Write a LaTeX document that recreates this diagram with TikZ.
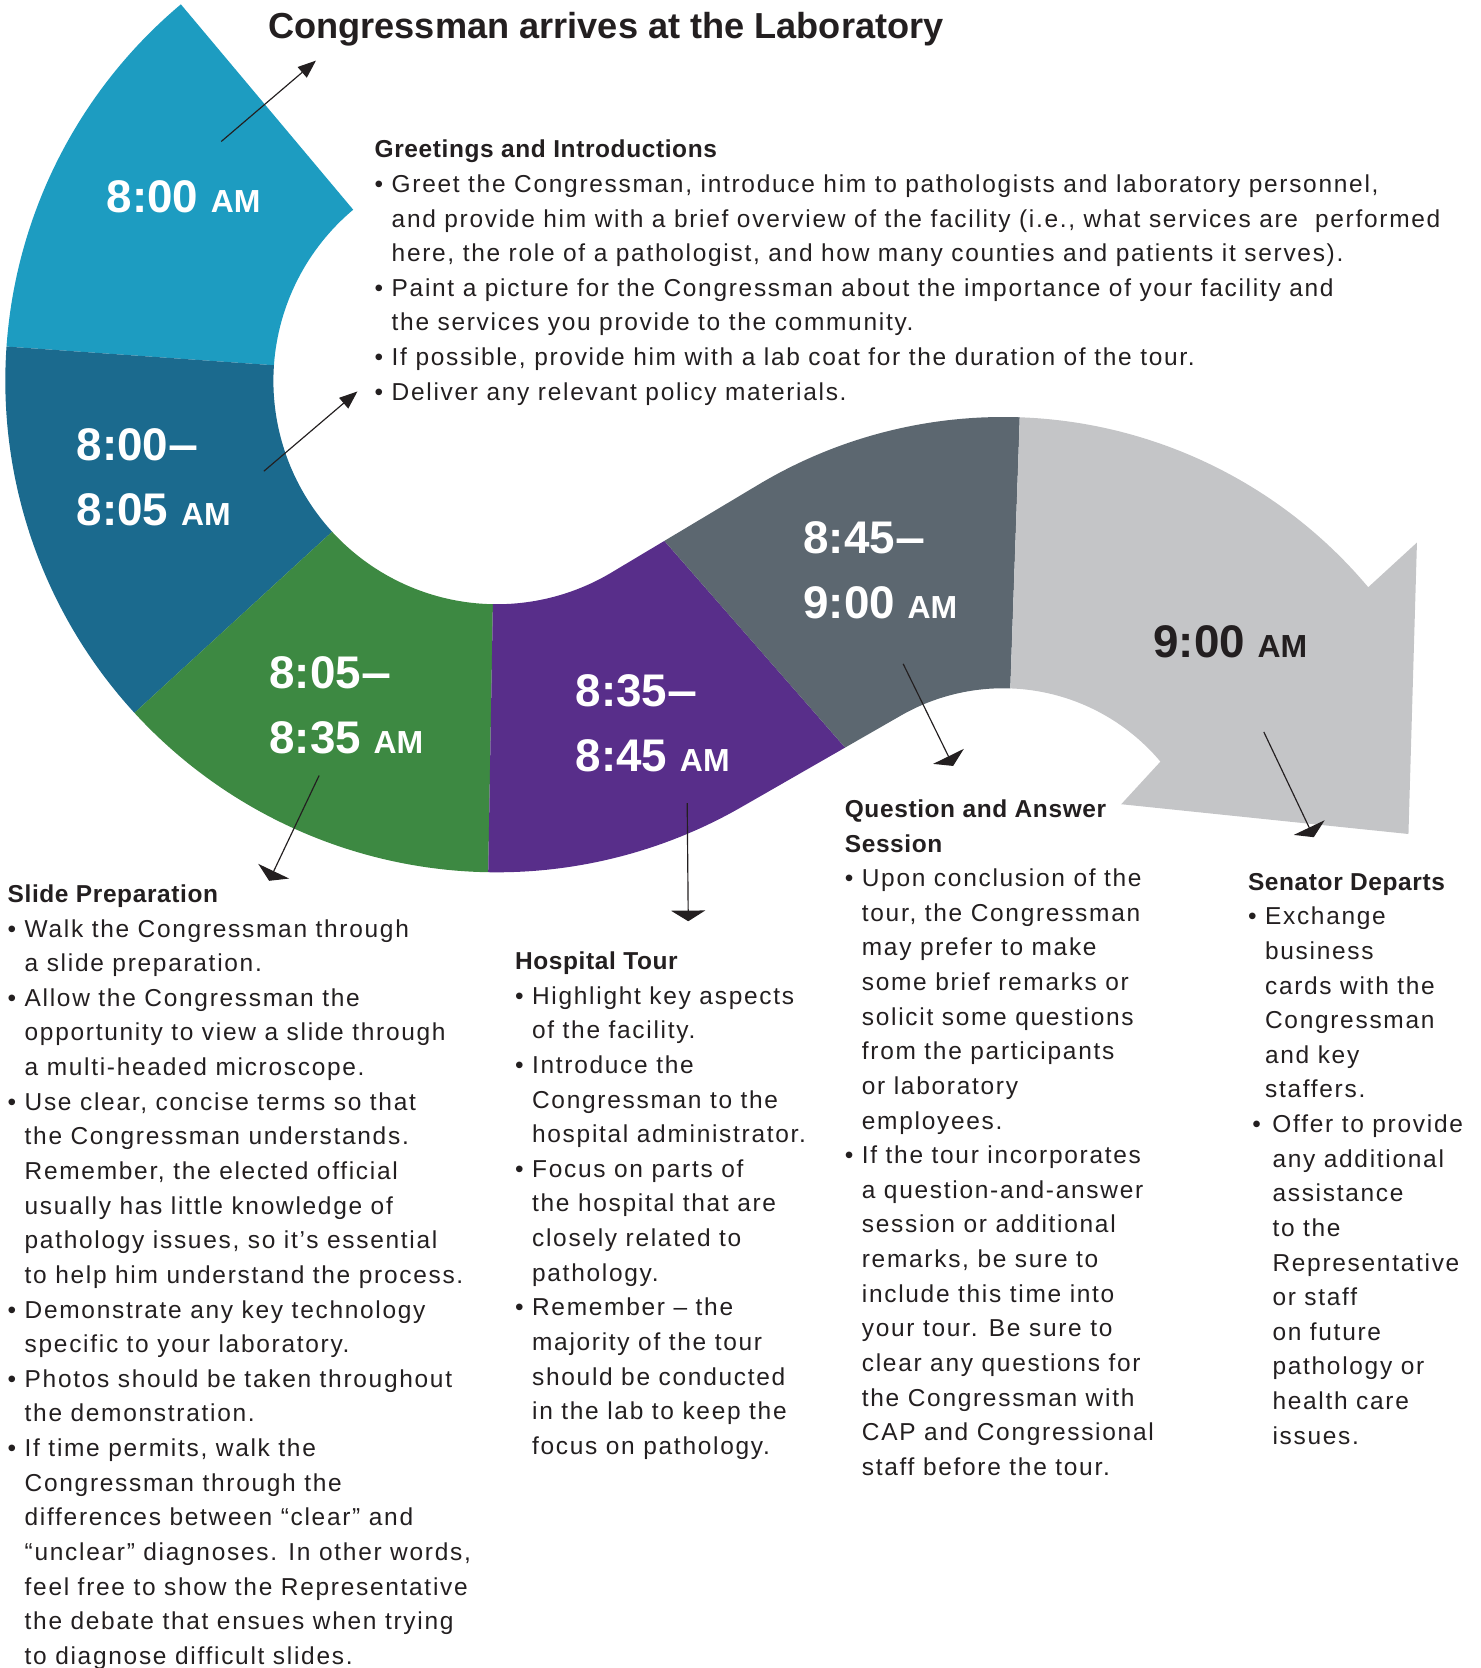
\documentclass[tikz,border=0pt]{standalone}
\usepackage{fontspec}
\setmainfont{Liberation Sans}[LetterSpace=7.0, BoldFeatures={LetterSpace=2.5}]
\newfontfamily\labelfont{Liberation Sans}
\usetikzlibrary{arrows.meta,calc}

\definecolor{segcyan}{RGB}{29,156,193}
\definecolor{segblue}{RGB}{27,106,142}
\definecolor{seggreen}{RGB}{61,137,66}
\definecolor{segpurple}{RGB}{88,46,138}
\definecolor{segslate}{RGB}{92,103,112}
\definecolor{seglight}{RGB}{196,197,199}
\definecolor{ink}{RGB}{35,31,32}

\tikzset{
  timelbl/.style={anchor=base west, inner sep=0pt, text=white,
    font=\labelfont\bfseries\fontsize{43}{43}\selectfont},
  infoblock/.style={anchor=north west, inner sep=0pt, align=left, text=ink,
    font=\fontsize{23}{32.55}\selectfont},
  pointer/.style={draw=ink, line width=1.1pt, -{Triangle[width=13pt,length=17pt]}},
  flatpointer/.style={draw=ink, line width=1.1pt, -{Triangle[width=32pt,length=10pt]}}
}
\newcommand{\am}{{\fontsize{30}{30}\selectfont AM}}
\newcommand{\tdash}{\kern0.5pt\scalebox{1.18}[1]{–}}
\newcommand{\bu}{\makebox[16pt][l]{\textbullet}}
\newcommand{\ii}{\hspace*{16pt}}

\begin{document}
\begin{tikzpicture}[x=1pt, y=1pt]
\useasboundingbox (0,0) rectangle (1392,-1568);

% centres of the two bends and the tangent points between them
\coordinate (c1) at (467,-358);
\coordinate (c2) at (943,-840);
\coordinate (u1) at ($(c1)+(-59.1:210pt)$);
\coordinate (u2) at ($(c2)+(120.9:448pt)$);
\coordinate (l1) at ($(c1)+(-60.13:462pt)$);
\coordinate (l2) at ($(c2)+(119.87:193pt)$);
\coordinate (pu) at ($(u1)!0.36!(u2)$);
\coordinate (pl) at ($(l1)!0.65!(l2)$);
\coordinate (tipA) at (1332,-510);
\coordinate (tipB) at (1324,-784);
\coordinate (tipC) at (1054,-756);

% band segments
\fill[segcyan] ($(c1)+(130:462pt)$) arc[start angle=130, end angle=176, radius=462pt]
  -- ($(c1)+(176:210pt)$) arc[start angle=176, end angle=130, radius=210pt] -- cycle;
\fill[segblue] ($(c1)+(176:462pt)$) arc[start angle=176, end angle=222.5, radius=462pt]
  -- ($(c1)+(222.5:210pt)$) arc[start angle=222.5, end angle=176, radius=210pt] -- cycle;
\fill[seggreen] ($(c1)+(222.5:462pt)$) arc[start angle=222.5, end angle=269, radius=462pt]
  -- ($(c1)+(269:210pt)$) arc[start angle=269, end angle=222.5, radius=210pt] -- cycle;
\fill[segpurple] ($(c1)+(269:462pt)$) arc[start angle=269, end angle=299.87, radius=462pt]
  -- (pl) -- (pu) -- (u1) arc[start angle=300.9, end angle=269, radius=210pt] -- cycle;
\fill[segslate] (pu) -- (u2) arc[start angle=120.9, end angle=88, radius=448pt]
  -- ($(c2)+(88:193pt)$) arc[start angle=88, end angle=119.87, radius=193pt] -- (pl) -- cycle;
\fill[seglight] ($(c2)+(88:448pt)$) arc[start angle=88, end angle=40, radius=448pt]
  -- (tipA) -- (tipB) -- (tipC)
  -- ($(c2)+(40:193pt)$) arc[start angle=40, end angle=88, radius=193pt] -- cycle;

% times
\node[timelbl] (t800) at (100,-200) {8:00 \am};
\node[timelbl] (t800a) at (72,-433) {8:00\tdash};
\node[timelbl] (t800b) at (72,-494) {8:05 \am};
\node[timelbl] (t805a) at (253,-647) {8:05\tdash};
\node[timelbl] (t805b) at (253,-708) {8:35 \am};
\node[timelbl] (t835a) at (541,-664) {8:35\tdash};
\node[timelbl] (t835b) at (541,-725) {8:45 \am};
\node[timelbl] (t845a) at (755,-520) {8:45\tdash};
\node[timelbl] (t845b) at (755,-581) {9:00 \am};
\node[timelbl, text=ink] (t900) at (1084,-618) {9:00 \am};

\node[anchor=base west, inner sep=0pt, text=ink, font=\labelfont\bfseries\fontsize{34}{34}\selectfont]
  (title) at (252,-36) {Congressman arrives at the Laboratory};

\node[infoblock] (greet) at (352,-131.5) {\textbf{Greetings and Introductions}\\
\bu Greet the Congressman, introduce him to pathologists and laboratory personnel,\\
\ii and provide him with a brief overview of the facility (i.e., what services are\ \ performed\\
\ii here, the role of a pathologist, and how many counties and patients it serves).\\
\bu Paint a picture for the Congressman about the importance of your facility and\\
\ii the services you provide to the community.\\
\bu If possible, provide him with a lab coat for the duration of the tour.\\
\bu Deliver any relevant policy materials.};

\node[infoblock] (slide) at (7,-831.5) {\textbf{Slide Preparation}\\
\bu Walk the Congressman through\\
\ii a slide preparation.\\
\bu Allow the Congressman the\\
\ii opportunity to view a slide through\\
\ii a multi-headed microscope.\\
\bu Use clear, concise terms so that\\
\ii the Congressman understands.\\
\ii Remember, the elected official\\
\ii usually has little knowledge of\\
\ii pathology issues, so it’s essential\\
\ii to help him understand the process.\\
\bu Demonstrate any key technology\\
\ii specific to your laboratory.\\
\bu Photos should be taken throughout\\
\ii the demonstration.\\
\bu If time permits, walk the\\
\ii Congressman through the\\
\ii differences between “clear” and\\
\ii “unclear” diagnoses. In other words,\\
\ii feel free to show the Representative\\
\ii the debate that ensues when trying\\
\ii to diagnose difficult slides.};

\node[infoblock] (hosp) at (484,-894.5) {\textbf{Hospital Tour}\\
\bu Highlight key aspects\\
\ii of the facility.\\
\bu Introduce the\\
\ii Congressman to the\\
\ii hospital administrator.\\
\bu Focus on parts of\\
\ii the hospital that are\\
\ii closely related to\\
\ii pathology.\\
\bu Remember – the\\
\ii majority of the tour\\
\ii should be conducted\\
\ii in the lab to keep the\\
\ii focus on pathology.};

\node[infoblock] (qa) at (794,-751.5) {\textbf{Question and Answer}\\
\textbf{Session}\\
\bu Upon conclusion of the\\
\ii tour, the Congressman\\
\ii may prefer to make\\
\ii some brief remarks or\\
\ii solicit some questions\\
\ii from the participants\\
\ii or laboratory\\
\ii employees.\\
\bu If the tour incorporates\\
\ii a question-and-answer\\
\ii session or additional\\
\ii remarks, be sure to\\
\ii include this time into\\
\ii your tour. Be sure to\\
\ii clear any questions for\\
\ii the Congressman with\\
\ii CAP and Congressional\\
\ii staff before the tour.};

\node[infoblock] (depart) at (1173,-820.5) {\textbf{Senator Departs}\\
\bu Exchange\\
\ii business\\
\ii cards with the\\
\ii Congressman\\
\ii and key\\
\ii staffers.\\
\hspace*{4pt}\makebox[19pt][l]{\textbullet}Offer to provide\\
\hspace*{23pt}any additional\\
\hspace*{23pt}assistance\\
\hspace*{23pt}to the\\
\hspace*{23pt}Representative\\
\hspace*{23pt}or staff\\
\hspace*{23pt}on future\\
\hspace*{23pt}pathology or\\
\hspace*{23pt}health care\\
\hspace*{23pt}issues.};

% pointers
\coordinate (p1s) at (208,-133); \coordinate (p1e) at (297,-57);
\coordinate (p2s) at (248,-443); \coordinate (p2e) at (336,-368);
\coordinate (p3s) at (300,-729); \coordinate (p3e) at (253,-828);
\coordinate (p4s) at (646,-755); \coordinate (p4e) at (647,-866);
\coordinate (p5s) at (849,-624); \coordinate (p5e) at (896,-720);
\coordinate (p6s) at (1188,-688); \coordinate (p6e) at (1235,-787);
\draw[pointer] (p1s) -- (p1e);
\draw[pointer] (p2s) -- (p2e);
\draw[flatpointer] (p3s) -- (p3e);
\draw[flatpointer] (p4s) -- (p4e);
\draw[flatpointer] (p5s) -- (p5e);
\draw[flatpointer] (p6s) -- (p6e);
\end{tikzpicture}
\end{document}
